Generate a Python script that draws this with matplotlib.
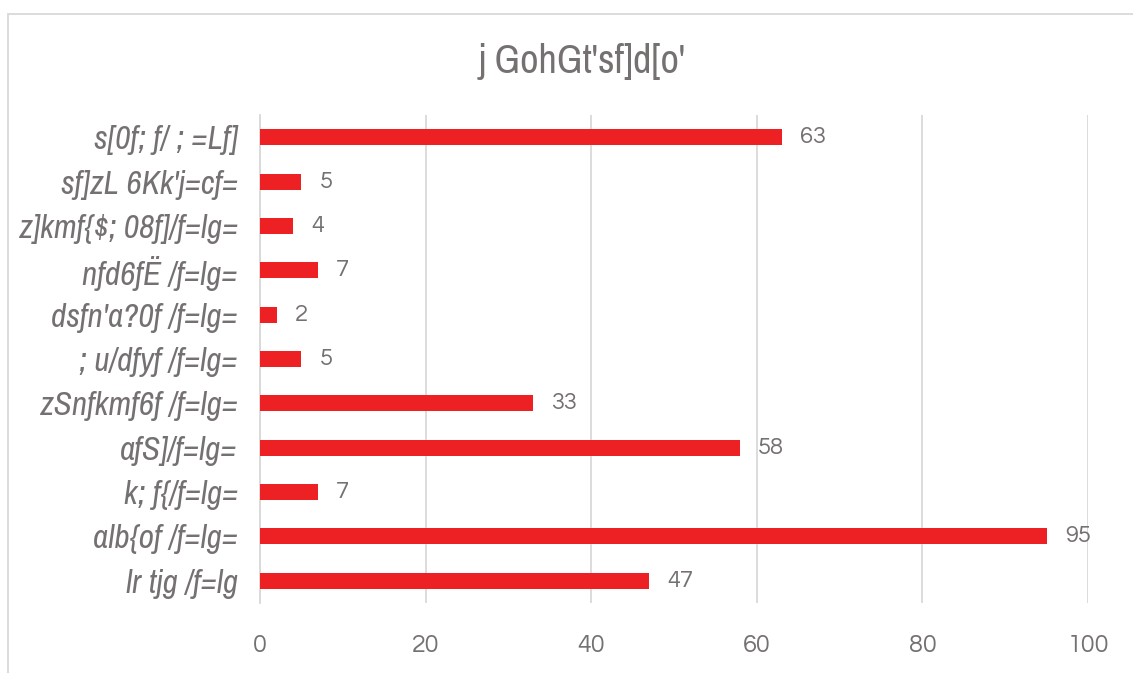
import matplotlib.pyplot as plt
from matplotlib.patches import Rectangle
from matplotlib import font_manager

# categories top to bottom as in the picture
labels = [
    "s[0f; f/ ; =Lf]",
    "sf]zL 6Kk'j=cf=",
    "z]kmf{$; 08f]/f=lg=",
    "nfd6fË /f=lg=",
    "dsfn'a?0f /f=lg=",
    "; u/dfyf /f=lg=",
    "zSnfkmf6f /f=lg=",
    "afS]/f=lg=",
    "k; f{/f=lg=",
    "alb{of /f=lg=",
    "lr tjg /f=lg",
]
values = [63, 5, 4, 7, 2, 5, 33, 58, 7, 95, 47]
title = "j GohGt'sf]d[o'"
xticks = [0, 20, 40, 60, 80, 100]


def pick(cands):
    names = {f.name for f in font_manager.fontManager.ttflist}
    for c in cands:
        if c in names:
            return c
    return "DejaVu Sans"


narrow = pick(["Liberation Sans Narrow", "Archivo Narrow", "Barlow Condensed", "Asap Condensed"])
numfont = pick(["Questrial", "Didact Gothic", "Lato"])

bar_color = "#ED2024"
text_gray = "#767171"
grid_gray = "#D9D9D9"

fig = plt.figure(figsize=(11.33, 6.73), dpi=100)
ax = fig.add_axes([260 / 1133, 1 - 603 / 673, 828 / 1133, 488 / 673])

ypos = list(range(len(labels)))[::-1]
ax.barh(ypos, values, height=0.36, color=bar_color, zorder=3)

for y, v in zip(ypos, values):
    ax.text(v + 2.2, y, str(v), va="center", ha="left", fontsize=17,
            color=text_gray, family=numfont)

ax.set_xlim(0, 100)
ax.set_ylim(-0.5, len(labels) - 0.5)
ax.set_xticks(xticks)
ax.set_xticklabels([str(t) for t in xticks], fontsize=18, color=text_gray, family=numfont)
ax.set_yticks(ypos)
ax.set_yticklabels(labels, fontsize=24, color=text_gray, family=narrow, style="italic")
ax.tick_params(axis="both", length=0)
ax.tick_params(axis="x", pad=22)
ax.tick_params(axis="y", pad=16)

ax.xaxis.grid(True, color=grid_gray, linewidth=1.3, zorder=0)
for s in ["top", "right", "bottom"]:
    ax.spines[s].set_visible(False)
ax.spines["left"].set_color(grid_gray)
ax.spines["left"].set_linewidth(1.3)

fig.text(582 / 1133, 1 - 62 / 673, title, ha="center", va="center", fontsize=29,
         color="#767171", family=narrow)

# chart area border
fig.patches.append(Rectangle((8 / 1133, -0.05), 1.2, 1.05 - 14 / 673,
                             transform=fig.transFigure, fill=False,
                             edgecolor="#D9D9D9", linewidth=1.3))

fig.savefig("out.png", dpi=100)
